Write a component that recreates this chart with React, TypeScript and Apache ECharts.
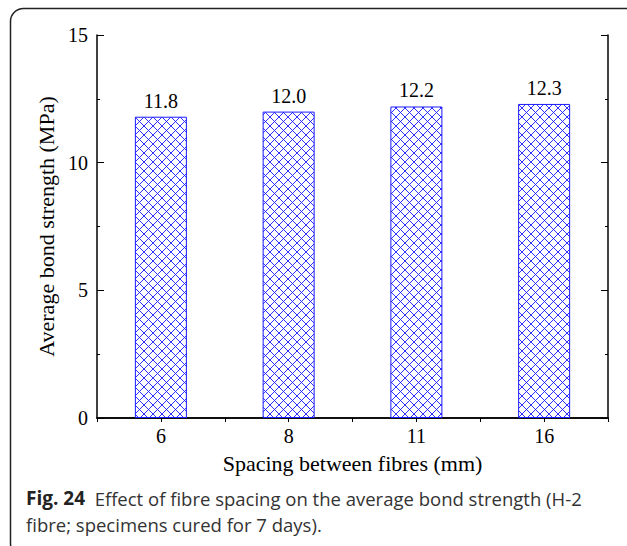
import React, { useEffect, useRef } from 'react';
import * as echarts from 'echarts';

const categories = ['6', '8', '11', '16'];
const strengths = [11.8, 12.0, 12.2, 12.3];
const yMin = 0;
const yMax = 15;
const yInterval = 5;
const xTitle = 'Spacing between fibres (mm)';
const yTitle = 'Average bond strength (MPa)';
const captionBold = 'Fig. 24';
const captionLine1 = 'Effect of fibre spacing on the average bond strength (H-2';
const captionLine2 = 'fibre; specimens cured for 7 days).';

const SERIF = 'Liberation Serif, Times New Roman, serif';
const SANS = 'Open Sans, Noto Sans, sans-serif';

function makeHatch(): HTMLCanvasElement {
  const s = 9;
  const c = document.createElement('canvas');
  c.width = s;
  c.height = s;
  const ctx = c.getContext('2d')!;
  ctx.fillStyle = '#ffffff';
  ctx.fillRect(0, 0, s, s);
  ctx.strokeStyle = '#1a1aff';
  ctx.lineWidth = 0.9;
  ctx.beginPath();
  ctx.moveTo(-1, -1);
  ctx.lineTo(s + 1, s + 1);
  ctx.moveTo(s + 1, -1);
  ctx.lineTo(-1, s + 1);
  ctx.stroke();
  return c;
}

export default function App() {
  const ref = useRef<HTMLDivElement>(null);
  useEffect(() => {
    if (!ref.current) return;
    const chart = echarts.init(ref.current, undefined, { renderer: 'svg' });
    const hatch = makeHatch();
    const axisLine = { show: true, lineStyle: { color: '#000', width: 1.5 } };
    chart.setOption({
      animation: false,
      backgroundColor: '#fff',
      grid: { left: 97, top: 35, width: 511, height: 383, containLabel: false },
      xAxis: [
        {
          type: 'category',
          data: categories,
          position: 'bottom',
          boundaryGap: true,
          axisLine,
          axisTick: { show: true, inside: false, length: 3, lineStyle: { color: '#000' } },
          axisLabel: { color: '#000', fontFamily: SERIF, fontSize: 20, margin: 8 },
          name: xTitle,
          nameLocation: 'middle',
          nameGap: 34,
          nameTextStyle: { color: '#000', fontFamily: SERIF, fontSize: 22 },
          splitLine: { show: false },
        },
        {
          type: 'value',
          position: 'top',
          min: 0,
          max: 8,
          interval: 1,
          axisLine,
          axisTick: { show: true, inside: true, length: 4, lineStyle: { color: '#000' } },
          axisLabel: { show: false },
          splitLine: { show: false },
        },
      ],
      yAxis: [
        {
          type: 'value',
          min: yMin,
          max: yMax,
          interval: yInterval,
          position: 'left',
          axisLine,
          axisTick: { show: true, inside: true, length: 7, lineStyle: { color: '#000' } },
          minorTick: { show: true, splitNumber: 2, length: 3, lineStyle: { color: '#000' } },
          axisLabel: { color: '#000', fontFamily: SERIF, fontSize: 20, margin: 9 },
          name: yTitle,
          nameLocation: 'middle',
          nameGap: 38,
          nameTextStyle: { color: '#000', fontFamily: SERIF, fontSize: 22 },
          splitLine: { show: false },
        },
        {
          type: 'value',
          min: yMin,
          max: yMax,
          interval: yInterval,
          position: 'right',
          axisLine,
          axisTick: { show: true, inside: true, length: 7, lineStyle: { color: '#000' } },
          minorTick: { show: true, splitNumber: 2, length: 3, lineStyle: { color: '#000' } },
          axisLabel: { show: false },
          splitLine: { show: false },
        },
      ],
      series: [
        {
          type: 'bar',
          xAxisIndex: 0,
          yAxisIndex: 0,
          data: strengths,
          barWidth: 52,
          itemStyle: {
            color: { image: hatch, repeat: 'repeat' },
            borderColor: '#1a1aff',
            borderWidth: 1,
          },
          label: {
            show: true,
            position: 'top',
            distance: 6,
            color: '#000',
            fontFamily: SERIF,
            fontSize: 20,
            formatter: (p: any) => Number(p.value).toFixed(1),
          },
        },
      ],
      graphic: [
        {
          type: 'rect',
          silent: true,
          shape: { x: 10.5, y: 8.5, width: 628, height: 548, r: 13 },
          style: { fill: 'none', stroke: '#222', lineWidth: 1.5 },
        },
        {
          type: 'text',
          left: 26,
          top: 485,
          style: {
            text: `{b|${captionBold}}  ${captionLine1}\n${captionLine2}`,
            fontFamily: SANS,
            fontSize: 18.5,
            lineHeight: 26,
            fill: '#333',
            rich: {
              b: { fontFamily: SANS, fontSize: 19, fontWeight: 'bold', fill: '#222', lineHeight: 26 },
            },
          },
        },
      ],
    });
    return () => chart.dispose();
  }, []);
  return (
    <div
      ref={ref}
      style={{ position: 'absolute', left: 0, top: 0, width: 627, height: 546 }}
    />
  );
}
